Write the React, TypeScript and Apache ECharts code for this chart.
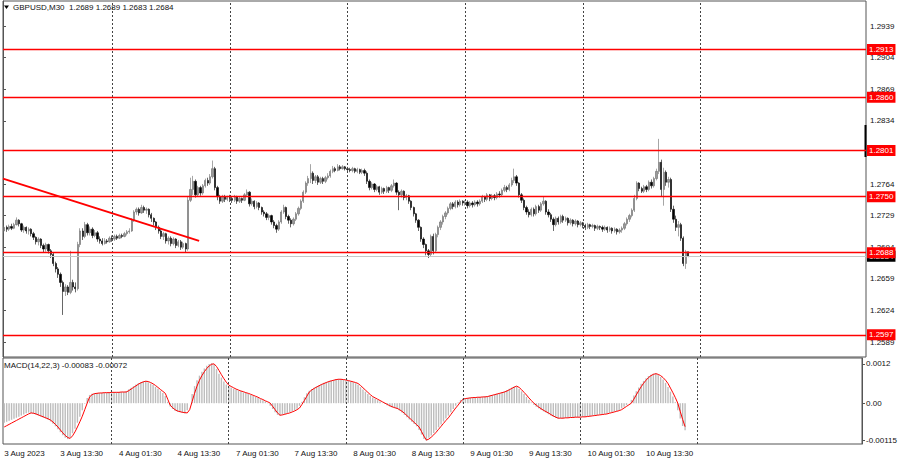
import React, { useEffect, useRef } from "react";
import * as echarts from "echarts";

const FONT = "'Liberation Sans', Arial, sans-serif";

const symbol = "GBPUSD,M30";
const macdName = "MACD(14,22,3)";

// trading days visible on the chart (M30 bars, first visible bar 3 Aug 02:00)
const dayNames = ["3 Aug", "4 Aug", "7 Aug", "8 Aug", "9 Aug", "10 Aug", "11 Aug", "14 Aug"];
const firstBarHalfHour = 4; // 02:00
const slotCount = 352;

const xTickLabels = [
  "3 Aug 2023", "3 Aug 13:30", "4 Aug 01:30", "4 Aug 13:30", "7 Aug 01:30", "7 Aug 13:30",
  "8 Aug 01:30", "8 Aug 13:30", "9 Aug 01:30", "9 Aug 13:30", "10 Aug 01:30", "10 Aug 13:30",
];
const daySeparators = ["4 Aug 00:00", "7 Aug 00:00", "8 Aug 00:00", "9 Aug 00:00", "10 Aug 00:00", "11 Aug 00:00"];

// 1.2799 is hidden behind the 1.2801 level tag in the reference, so it is not listed
const priceTicks = [1.2589, 1.2624, 1.2659, 1.2694, 1.2729, 1.2764, 1.2834, 1.2869, 1.2904, 1.2939];
const priceMin = 1.25724;
const priceMax = 1.29667;

const levels = [1.2913, 1.286, 1.2801, 1.275, 1.2688, 1.2597];

const trendSlots = [0, 80];
const trendPrices = [1.277, 1.2701];

const macdTickValues = [0.0012, 0, -0.00115];
const macdTickLabels = ["0.0012", "0.00", "-0.00115"];
const macdMin = -0.00125;
const macdMax = 0.00138;

// candles: [open, close, low, high]
const candles3Aug = [
  [1.2712, 1.2716, 1.271, 1.2718], [1.2716, 1.2714, 1.2711, 1.2718], [1.2714, 1.2717, 1.2712, 1.2719],
  [1.2717, 1.2715, 1.2713, 1.272], [1.2715, 1.2719, 1.2714, 1.2721], [1.2719, 1.2724, 1.2718, 1.2727],
  [1.2724, 1.272, 1.2717, 1.2725], [1.272, 1.2713, 1.2711, 1.2721], [1.2713, 1.2716, 1.271, 1.2718],
  [1.2716, 1.2712, 1.2709, 1.2717], [1.2712, 1.2714, 1.2708, 1.2716], [1.2714, 1.2709, 1.2706, 1.2715],
  [1.2709, 1.2705, 1.2702, 1.2711], [1.2705, 1.27, 1.2697, 1.2706], [1.27, 1.2703, 1.2696, 1.2705],
  [1.2703, 1.2696, 1.2693, 1.2704], [1.2696, 1.2692, 1.2688, 1.2698], [1.2692, 1.2697, 1.2689, 1.2699],
  [1.2697, 1.269, 1.2687, 1.2698], [1.269, 1.2686, 1.2682, 1.2692], [1.2686, 1.2676, 1.2673, 1.2688],
  [1.2676, 1.267, 1.2666, 1.2678], [1.267, 1.2664, 1.266, 1.2672], [1.2664, 1.2655, 1.265, 1.2666],
  [1.2655, 1.2645, 1.2619, 1.2657], [1.2645, 1.265, 1.264, 1.2653], [1.265, 1.2644, 1.2641, 1.2652],
  [1.2644, 1.2655, 1.2642, 1.269], [1.2655, 1.265, 1.2646, 1.2658], [1.265, 1.2648, 1.2644, 1.2655],
  [1.2648, 1.2697, 1.2646, 1.27], [1.2697, 1.2712, 1.2694, 1.2715], [1.2712, 1.2706, 1.2702, 1.2715],
  [1.2706, 1.2719, 1.2704, 1.2722], [1.2719, 1.271, 1.2707, 1.2721], [1.271, 1.2714, 1.2707, 1.2717],
  [1.2714, 1.2707, 1.2704, 1.2716], [1.2707, 1.271, 1.2705, 1.2713], [1.271, 1.2703, 1.27, 1.2712],
  [1.2703, 1.2701, 1.2698, 1.2706], [1.2701, 1.2698, 1.2696, 1.2704], [1.2698, 1.2701, 1.2697, 1.2704],
  [1.2701, 1.27, 1.2698, 1.2703], [1.27, 1.2704, 1.2699, 1.2706],
];
const candles4Aug = [
  [1.2704, 1.2703, 1.27, 1.2707], [1.2703, 1.2706, 1.2701, 1.2708], [1.2706, 1.2704, 1.2702, 1.2708],
  [1.2704, 1.2707, 1.2703, 1.2709], [1.2707, 1.2706, 1.2704, 1.2709], [1.2706, 1.2709, 1.2705, 1.2711],
  [1.2709, 1.2711, 1.2707, 1.2713], [1.2711, 1.2712, 1.2709, 1.2715], [1.2712, 1.2724, 1.2711, 1.2726],
  [1.2724, 1.2733, 1.2722, 1.2735], [1.2733, 1.2736, 1.273, 1.2738], [1.2736, 1.2732, 1.2729, 1.2738],
  [1.2732, 1.2738, 1.2731, 1.2741], [1.2738, 1.2735, 1.2732, 1.274], [1.2735, 1.2736, 1.2731, 1.2738],
  [1.2736, 1.273, 1.2727, 1.2737], [1.273, 1.2726, 1.2722, 1.2732], [1.2726, 1.2722, 1.2718, 1.2727],
  [1.2722, 1.2716, 1.2713, 1.2723], [1.2716, 1.2712, 1.2709, 1.2718], [1.2712, 1.2706, 1.2703, 1.2714],
  [1.2706, 1.2709, 1.2702, 1.2711], [1.2709, 1.2701, 1.2698, 1.271], [1.2701, 1.2704, 1.2697, 1.2706],
  [1.2704, 1.2698, 1.2695, 1.2706], [1.2698, 1.2703, 1.2696, 1.2705], [1.2703, 1.2696, 1.2693, 1.2704],
  [1.2696, 1.27, 1.2694, 1.2702], [1.27, 1.2694, 1.2691, 1.2702], [1.2694, 1.2698, 1.2692, 1.27],
  [1.2698, 1.2692, 1.2688, 1.2699], [1.2692, 1.2746, 1.269, 1.275], [1.2746, 1.2758, 1.2744, 1.2771],
  [1.2758, 1.2767, 1.2752, 1.2773], [1.2767, 1.2752, 1.2749, 1.2769], [1.2752, 1.276, 1.275, 1.2762],
  [1.276, 1.2754, 1.2751, 1.2762], [1.2754, 1.2762, 1.2752, 1.2764], [1.2762, 1.2768, 1.276, 1.277],
  [1.2768, 1.2765, 1.2762, 1.2771], [1.2765, 1.2772, 1.2763, 1.2775], [1.2772, 1.2781, 1.277, 1.279],
  [1.2781, 1.276, 1.2757, 1.2783], [1.276, 1.275, 1.2746, 1.2762], [1.275, 1.2745, 1.2742, 1.2752],
  [1.2745, 1.275, 1.2743, 1.2752], [1.275, 1.2747, 1.2744, 1.2752], [1.2747, 1.2749, 1.2745, 1.2751],
];
const candles7Aug = [
  [1.2749, 1.2748, 1.2744, 1.2752], [1.2748, 1.2746, 1.2743, 1.275], [1.2746, 1.275, 1.2744, 1.2752],
  [1.275, 1.2745, 1.2742, 1.2751], [1.2745, 1.2748, 1.2743, 1.275], [1.2748, 1.2746, 1.2743, 1.2749],
  [1.2746, 1.2752, 1.2745, 1.2754], [1.2752, 1.2755, 1.275, 1.2758], [1.2755, 1.2742, 1.2739, 1.2756],
  [1.2742, 1.2745, 1.274, 1.2748], [1.2745, 1.2739, 1.2736, 1.2746], [1.2739, 1.2743, 1.2737, 1.2745],
  [1.2743, 1.2738, 1.2735, 1.2744], [1.2738, 1.2733, 1.273, 1.2739], [1.2733, 1.2731, 1.2728, 1.2735],
  [1.2731, 1.2727, 1.2724, 1.2733], [1.2727, 1.2729, 1.2724, 1.2731], [1.2729, 1.2722, 1.2719, 1.273],
  [1.2722, 1.2718, 1.2715, 1.2724], [1.2718, 1.2714, 1.271, 1.272], [1.2714, 1.2722, 1.2712, 1.2724],
  [1.2722, 1.2733, 1.272, 1.2735], [1.2733, 1.2738, 1.2731, 1.2741], [1.2738, 1.2728, 1.2725, 1.2739],
  [1.2728, 1.2724, 1.272, 1.273], [1.2724, 1.272, 1.2716, 1.2726], [1.272, 1.2725, 1.2718, 1.2727],
  [1.2725, 1.2731, 1.2723, 1.2733], [1.2731, 1.2737, 1.2729, 1.2739], [1.2737, 1.2745, 1.2735, 1.2747],
  [1.2745, 1.2755, 1.2743, 1.2757], [1.2755, 1.2765, 1.2753, 1.2767], [1.2765, 1.277, 1.2762, 1.2773],
  [1.277, 1.2776, 1.2765, 1.2786], [1.2776, 1.2768, 1.2764, 1.2778], [1.2768, 1.2772, 1.2765, 1.2774],
  [1.2772, 1.2766, 1.2763, 1.2774], [1.2766, 1.277, 1.2764, 1.2772], [1.277, 1.2767, 1.2764, 1.2772],
  [1.2767, 1.2771, 1.2765, 1.2773], [1.2771, 1.2773, 1.2769, 1.2776], [1.2773, 1.2778, 1.2771, 1.278],
  [1.2778, 1.2781, 1.2776, 1.2784], [1.2781, 1.2779, 1.2777, 1.2783], [1.2779, 1.2783, 1.2778, 1.2786],
  [1.2783, 1.2781, 1.2779, 1.2785], [1.2781, 1.2783, 1.278, 1.2785], [1.2783, 1.2781, 1.2779, 1.2784],
];
const candles8Aug = [
  [1.2781, 1.278, 1.2778, 1.2783], [1.278, 1.2779, 1.2777, 1.2782], [1.2779, 1.2781, 1.2777, 1.2783],
  [1.2781, 1.2778, 1.2776, 1.2782], [1.2778, 1.278, 1.2776, 1.2782], [1.278, 1.2777, 1.2775, 1.2781],
  [1.2777, 1.2779, 1.2775, 1.2781], [1.2779, 1.2776, 1.2773, 1.2781], [1.2776, 1.2767, 1.2764, 1.2778],
  [1.2767, 1.276, 1.2757, 1.2769], [1.276, 1.2764, 1.2758, 1.2766], [1.2764, 1.2758, 1.2755, 1.2765],
  [1.2758, 1.2761, 1.2756, 1.2763], [1.2761, 1.2755, 1.2752, 1.2762], [1.2755, 1.2759, 1.2753, 1.2761],
  [1.2759, 1.2756, 1.2753, 1.276], [1.2756, 1.276, 1.2754, 1.2762], [1.276, 1.2757, 1.2754, 1.2761],
  [1.2757, 1.2762, 1.2755, 1.2764], [1.2762, 1.2765, 1.276, 1.2769], [1.2765, 1.2755, 1.2752, 1.2766],
  [1.2755, 1.2752, 1.2735, 1.2757], [1.2752, 1.2756, 1.2749, 1.2758], [1.2756, 1.2749, 1.2746, 1.2757],
  [1.2749, 1.2751, 1.2746, 1.2753], [1.2751, 1.2745, 1.2742, 1.2752], [1.2745, 1.2738, 1.2735, 1.2746],
  [1.2738, 1.2731, 1.2728, 1.2739], [1.2731, 1.2724, 1.2721, 1.2732], [1.2724, 1.2716, 1.2712, 1.2725],
  [1.2716, 1.2703, 1.27, 1.2717], [1.2703, 1.2697, 1.2693, 1.2705], [1.2697, 1.269, 1.2685, 1.2698],
  [1.269, 1.2686, 1.2682, 1.2692], [1.2686, 1.2706, 1.2684, 1.2708], [1.2706, 1.269, 1.2686, 1.2709],
  [1.269, 1.2708, 1.2688, 1.271], [1.2708, 1.2716, 1.2705, 1.2718], [1.2716, 1.2722, 1.2713, 1.2724],
  [1.2722, 1.2728, 1.2719, 1.273], [1.2728, 1.2732, 1.2725, 1.2734], [1.2732, 1.2737, 1.273, 1.2739],
  [1.2737, 1.2742, 1.2735, 1.2744], [1.2742, 1.2739, 1.2736, 1.2744], [1.2739, 1.2744, 1.2737, 1.2746],
  [1.2744, 1.2741, 1.2738, 1.2746], [1.2741, 1.2745, 1.2739, 1.2747], [1.2745, 1.2743, 1.274, 1.2746],
];
const candles9Aug = [
  [1.2743, 1.2744, 1.274, 1.2746], [1.2744, 1.274, 1.2737, 1.2746], [1.274, 1.2743, 1.2738, 1.2745],
  [1.2743, 1.2741, 1.2738, 1.2745], [1.2741, 1.2744, 1.2739, 1.2746], [1.2744, 1.2742, 1.2739, 1.2746],
  [1.2742, 1.2745, 1.274, 1.2747], [1.2745, 1.275, 1.2743, 1.2752], [1.275, 1.2747, 1.2744, 1.2751],
  [1.2747, 1.2752, 1.2745, 1.2754], [1.2752, 1.2748, 1.2745, 1.2753], [1.2748, 1.2751, 1.2746, 1.2753],
  [1.2751, 1.2749, 1.2746, 1.2753], [1.2749, 1.2753, 1.2747, 1.2755], [1.2753, 1.2752, 1.2749, 1.2756],
  [1.2752, 1.2757, 1.275, 1.2759], [1.2757, 1.276, 1.2755, 1.2763], [1.276, 1.2758, 1.2755, 1.2762],
  [1.2758, 1.2763, 1.2756, 1.2765], [1.2763, 1.2768, 1.2761, 1.2771], [1.2768, 1.2772, 1.2765, 1.2781],
  [1.2772, 1.2765, 1.2762, 1.2774], [1.2765, 1.2752, 1.2749, 1.2766], [1.2752, 1.2746, 1.2743, 1.2754],
  [1.2746, 1.2738, 1.2735, 1.2748], [1.2738, 1.2733, 1.273, 1.274], [1.2733, 1.273, 1.2727, 1.2736],
  [1.273, 1.2736, 1.2728, 1.2738], [1.2736, 1.2731, 1.2728, 1.2738], [1.2731, 1.2739, 1.2729, 1.2741],
  [1.2739, 1.2735, 1.2732, 1.2741], [1.2735, 1.2742, 1.2733, 1.2744], [1.2742, 1.2745, 1.274, 1.275],
  [1.2745, 1.2733, 1.273, 1.2746], [1.2733, 1.273, 1.2727, 1.2736], [1.273, 1.2725, 1.2722, 1.2732],
  [1.2725, 1.2719, 1.2712, 1.2727], [1.2719, 1.2726, 1.2717, 1.2728], [1.2726, 1.2722, 1.2719, 1.2728],
  [1.2722, 1.2728, 1.272, 1.273], [1.2728, 1.2724, 1.2721, 1.273], [1.2724, 1.2726, 1.2722, 1.2728],
  [1.2726, 1.2721, 1.2718, 1.2727], [1.2721, 1.2724, 1.2719, 1.2726], [1.2724, 1.272, 1.2717, 1.2725],
  [1.272, 1.2723, 1.2718, 1.2725], [1.2723, 1.2719, 1.2716, 1.2724], [1.2719, 1.2721, 1.2717, 1.2723],
];
const candles10Aug = [
  [1.2721, 1.2718, 1.2715, 1.2722], [1.2718, 1.2716, 1.2713, 1.272], [1.2716, 1.2719, 1.2714, 1.2721],
  [1.2719, 1.2717, 1.2714, 1.272], [1.2717, 1.2718, 1.2715, 1.272], [1.2718, 1.2715, 1.2712, 1.2719],
  [1.2715, 1.2717, 1.2713, 1.2719], [1.2717, 1.2716, 1.2713, 1.2718], [1.2716, 1.2714, 1.2711, 1.2718],
  [1.2714, 1.2716, 1.2712, 1.2718], [1.2716, 1.2713, 1.271, 1.2717], [1.2713, 1.2715, 1.2711, 1.2717],
  [1.2715, 1.2712, 1.2709, 1.2716], [1.2712, 1.2714, 1.271, 1.2716], [1.2714, 1.2711, 1.2708, 1.2715],
  [1.2711, 1.2713, 1.2709, 1.2715], [1.2713, 1.2715, 1.271, 1.2717], [1.2715, 1.272, 1.2713, 1.2722],
  [1.272, 1.2725, 1.2718, 1.2727], [1.2725, 1.2729, 1.2722, 1.2731], [1.2729, 1.2735, 1.2727, 1.2737],
  [1.2735, 1.2748, 1.2733, 1.2752], [1.2748, 1.2765, 1.2746, 1.2767], [1.2765, 1.2759, 1.2756, 1.2766],
  [1.2759, 1.2756, 1.2754, 1.2761], [1.2756, 1.2761, 1.2754, 1.2763], [1.2761, 1.2758, 1.2755, 1.2763],
  [1.2758, 1.2766, 1.2756, 1.2768], [1.2766, 1.2762, 1.2759, 1.2769], [1.2762, 1.277, 1.276, 1.2772],
  [1.277, 1.2778, 1.2768, 1.2781], [1.2778, 1.2788, 1.2775, 1.2814], [1.2788, 1.2758, 1.275, 1.2791],
  [1.2758, 1.2777, 1.274, 1.2782], [1.2777, 1.2766, 1.2762, 1.2779], [1.2766, 1.2769, 1.276, 1.2772],
  [1.2769, 1.2736, 1.2733, 1.2771], [1.2736, 1.2725, 1.2721, 1.274], [1.2725, 1.2716, 1.2712, 1.2729],
  [1.2716, 1.2719, 1.2706, 1.2723], [1.2719, 1.2704, 1.2701, 1.2721], [1.2704, 1.2676, 1.2673, 1.2706],
  [1.2676, 1.2689, 1.267, 1.2691], [1.2689, 1.2684, 1.2683, 1.2689],
];

const macdMain = [
  // 3 Aug
  -0.0006, -0.00057, -0.00054, -0.00051, -0.00048, -0.00045, -0.00042, -0.00038, -0.00035, -0.00031, -0.00029, -0.0003,
  -0.00032, -0.00035, -0.00038, -0.00041, -0.00044, -0.00047, -0.00051, -0.00056, -0.00063, -0.00071, -0.0008, -0.00089,
  -0.00098, -0.00106, -0.0011, -0.00106, -0.00092, -0.00078, -0.0006, -0.00042, -0.00022, -0.00002, 0.00016, 0.00025,
  0.00029, 0.0003, 0.00031, 0.00031, 0.00032, 0.00032, 0.00032, 0.00033,
  // 4 Aug
  0.00033, 0.00033, 0.00033, 0.00034, 0.00034, 0.00034, 0.00036, 0.00042, 0.00047, 0.00052, 0.00057, 0.00061,
  0.00064, 0.00067, 0.00068, 0.00064, 0.0006, 0.00056, 0.0005, 0.00044, 0.00038, 0.00031, 0.00022, 0.00004,
  -0.0001, -0.00018, -0.00023, -0.00026, -0.00028, -0.0003, -0.00032, -0.00022, 0.0, 0.00028, 0.00052, 0.0007,
  0.00084, 0.00096, 0.00106, 0.00114, 0.0012, 0.00122, 0.00118, 0.00104, 0.0009, 0.00078, 0.00066, 0.00057,
  // 7 Aug
  0.00052, 0.00048, 0.00044, 0.00041, 0.00038, 0.00036, 0.00033, 0.00031, 0.00028, 0.00025, 0.00022, 0.00019,
  0.00016, 0.00012, 0.00009, 0.00005, 0.00001, -0.00008, -0.00018, -0.00028, -0.00036, -0.00038, -0.00035, -0.00033,
  -0.00031, -0.00028, -0.00025, -0.00022, -0.00017, -0.00008, 0.00004, 0.00018, 0.0003, 0.00038, 0.00043, 0.00047,
  0.00051, 0.00055, 0.00059, 0.00062, 0.00065, 0.00067, 0.00069, 0.00071, 0.00073, 0.00074, 0.00073, 0.00072,
  // 8 Aug
  0.0007, 0.00068, 0.00066, 0.00064, 0.00061, 0.00056, 0.00049, 0.00042, 0.00035, 0.00028, 0.00022, 0.00017,
  0.00013, 0.00009, 0.00005, 0.00001, -0.00003, -0.00007, -0.0001, -0.00013, -0.00015, -0.00018, -0.00023, -0.00029,
  -0.00036, -0.00043, -0.0005, -0.00057, -0.00064, -0.00071, -0.00082, -0.00096, -0.0011, -0.00115, -0.00106, -0.00099,
  -0.00091, -0.00083, -0.00074, -0.00065, -0.00056, -0.00047, -0.00038, -0.00028, -0.00018, -0.00008, 0.00002, 0.0001,
  // 9 Aug
  0.00014, 0.00015, 0.00016, 0.00017, 0.00017, 0.00018, 0.00018, 0.00019, 0.00019, 0.0002, 0.00021, 0.00023,
  0.00025, 0.00027, 0.00029, 0.00031, 0.00033, 0.00036, 0.0004, 0.00044, 0.00048, 0.00051, 0.0005, 0.00043,
  0.00036, 0.00028, 0.00019, 0.0001, 0.00002, -0.00005, -0.00011, -0.00016, -0.00021, -0.00025, -0.00029, -0.00034,
  -0.00038, -0.00042, -0.00045, -0.00047, -0.00046, -0.00046, -0.00045, -0.00045, -0.00044, -0.00044, -0.00043, -0.00043,
  // 10 Aug
  -0.00042, -0.00042, -0.00041, -0.0004, -0.00039, -0.00038, -0.00037, -0.00036, -0.00035, -0.00034, -0.00033, -0.00032,
  -0.0003, -0.00028, -0.00026, -0.00024, -0.00021, -0.00016, -0.00011, -0.00006, 0.0, 0.0001, 0.00023, 0.00036,
  0.00048, 0.00059, 0.00068, 0.00076, 0.00083, 0.00087, 0.0009, 0.00091, 0.00086, 0.0008, 0.00072, 0.00062,
  0.00049, 0.00035, 0.0002, 0.00003, -0.00022, -0.00047, -0.0007, -0.00083,
];

const macdSignal = [
  // 3 Aug
  -0.00073, -0.00069, -0.00065, -0.00061, -0.00057, -0.00053, -0.00049, -0.00045, -0.00041, -0.00037, -0.00033, -0.0003,
  -0.00031, -0.00033, -0.00036, -0.00039, -0.00042, -0.00045, -0.00048, -0.00052, -0.00058, -0.00065, -0.00073, -0.00082,
  -0.00091, -0.00099, -0.00105, -0.00108, -0.001, -0.00088, -0.00073, -0.00057, -0.0004, -0.0002, 0.0, 0.00019,
  0.00026, 0.00029, 0.0003, 0.00031, 0.00031, 0.00032, 0.00032, 0.00032,
  // 4 Aug
  0.00033, 0.00033, 0.00033, 0.00033, 0.00034, 0.00034, 0.00034, 0.00038, 0.00043, 0.00048, 0.00053, 0.00058,
  0.00062, 0.00065, 0.00067, 0.00066, 0.00063, 0.00059, 0.00054, 0.00048, 0.00042, 0.00036, 0.0003, 0.00012,
  -0.00006, -0.00014, -0.0002, -0.00024, -0.00026, -0.00028, -0.00029, -0.0003, -0.0002, 0.00005, 0.0003, 0.00052,
  0.0007, 0.00084, 0.00096, 0.00106, 0.00114, 0.00119, 0.0012, 0.00112, 0.001, 0.00087, 0.00075, 0.00064,
  // 7 Aug
  0.00055, 0.00051, 0.00047, 0.00043, 0.0004, 0.00037, 0.00035, 0.00032, 0.0003, 0.00027, 0.00024, 0.00021,
  0.00018, 0.00014, 0.00011, 0.00007, 0.00004, 0.0, -0.0001, -0.0002, -0.0003, -0.00037, -0.00036, -0.00034,
  -0.00032, -0.0003, -0.00027, -0.00024, -0.0002, -0.00015, -0.00004, 0.00008, 0.00021, 0.00034, 0.0004, 0.00045,
  0.00049, 0.00053, 0.00057, 0.0006, 0.00063, 0.00066, 0.00068, 0.0007, 0.00072, 0.00073, 0.00073, 0.00072,
  // 8 Aug
  0.00071, 0.00069, 0.00067, 0.00065, 0.00063, 0.0006, 0.00054, 0.00047, 0.0004, 0.00033, 0.00026, 0.0002,
  0.00016, 0.00012, 0.00008, 0.00004, 0.0, -0.00004, -0.00008, -0.00011, -0.00014, -0.00016, -0.0002, -0.00025,
  -0.00031, -0.00038, -0.00045, -0.00052, -0.00059, -0.00066, -0.00073, -0.00087, -0.00101, -0.00113, -0.0011, -0.00104,
  -0.00097, -0.00089, -0.0008, -0.00071, -0.00062, -0.00053, -0.00045, -0.00035, -0.00025, -0.00015, -0.00006, 0.00004,
  // 9 Aug
  0.00012, 0.00014, 0.00015, 0.00016, 0.00017, 0.00017, 0.00018, 0.00018, 0.00019, 0.00019, 0.0002, 0.00022,
  0.00024, 0.00026, 0.00028, 0.0003, 0.00032, 0.00034, 0.00037, 0.00041, 0.00045, 0.00049, 0.00052, 0.00048,
  0.00041, 0.00033, 0.00025, 0.00016, 0.00008, 0.0, -0.00006, -0.00012, -0.00017, -0.00022, -0.00026, -0.0003,
  -0.00035, -0.00039, -0.00043, -0.00046, -0.00046, -0.00046, -0.00045, -0.00045, -0.00044, -0.00044, -0.00043, -0.00043,
  // 10 Aug
  -0.00043, -0.00042, -0.00042, -0.00041, -0.0004, -0.00039, -0.00038, -0.00037, -0.00036, -0.00035, -0.00034, -0.00033,
  -0.00031, -0.00029, -0.00027, -0.00025, -0.00023, -0.0002, -0.00015, -0.0001, -0.00005, 0.0, 0.00012, 0.00025,
  0.00038, 0.0005, 0.00061, 0.0007, 0.00078, 0.00084, 0.00088, 0.0009, 0.00088, 0.00084, 0.00078, 0.0007,
  0.0006, 0.00046, 0.00032, 0.00017, 0.0, -0.00025, -0.0005, -0.00072,
];

function buildCategories(): string[] {
  const out: string[] = [];
  for (let d = 0; d < dayNames.length && out.length < slotCount; d++) {
    for (let h = d === 0 ? firstBarHalfHour : 0; h < 48 && out.length < slotCount; h++) {
      const hh = String(Math.floor(h / 2)).padStart(2, "0");
      const mm = h % 2 === 0 ? "00" : "30";
      out.push(`${dayNames[d]} ${hh}:${mm}`);
    }
  }
  return out;
}

export default function App() {
  const ref = useRef<HTMLDivElement>(null);

  useEffect(() => {
    if (!ref.current) return;
    const chart = echarts.init(ref.current, null, { renderer: "svg" });

    const categories = buildCategories();
    const candles = [...candles3Aug, ...candles4Aug, ...candles7Aug, ...candles8Aug, ...candles9Aug, ...candles10Aug];
    const last = candles[candles.length - 1];
    const currentPrice = last[1];
    const titleText = `${symbol}  ${last[0].toFixed(4)} ${last[3].toFixed(4)} ${last[2].toFixed(4)} ${last[1].toFixed(4)}`;
    const macdText = `${macdName} ${macdMain[macdMain.length - 1].toFixed(5)} ${macdSignal[macdSignal.length - 1].toFixed(5)}`;

    const tagLabel = (bg: string) => ({
      show: true,
      position: "end",
      distance: 1,
      formatter: (p: any) => Number(p.value).toFixed(4),
      color: "#fff",
      backgroundColor: bg,
      padding: [2, 2, 1, 2],
      fontSize: 8,
      fontFamily: FONT,
    });

    const separatorStyle = { color: "#444", width: 1, type: [2, 2] };
    const separatorItems = daySeparators.map((c) => ({
      xAxis: c,
      lineStyle: separatorStyle,
      label: { show: false },
    }));

    const option: any = {
      animation: false,
      backgroundColor: "#fff",
      textStyle: { fontFamily: FONT },
      grid: [
        { left: 3, right: 34, top: 1, height: 356, show: true, borderColor: "#555", borderWidth: 1 },
        { left: 3, right: 34, top: 358, height: 86, show: true, borderColor: "#555", borderWidth: 1 },
      ],
      xAxis: [
        { type: "category", gridIndex: 0, data: categories, show: false, boundaryGap: true },
        {
          type: "category",
          gridIndex: 1,
          data: categories,
          boundaryGap: true,
          axisLine: { show: false },
          axisTick: { show: false },
          splitLine: { show: false },
          axisLabel: {
            interval: (i: number, v: string) => i === 0 || xTickLabels.includes(v),
            formatter: (v: string, i: number) => (i === 0 ? xTickLabels[0] : v),
            align: "left",
            fontSize: 8,
            color: "#111",
            margin: 5,
            fontFamily: FONT,
          },
        },
        { type: "value", gridIndex: 0, min: 0, max: categories.length, show: false },
      ],
      yAxis: [
        {
          type: "value",
          gridIndex: 0,
          position: "right",
          min: priceMin,
          max: priceMax,
          axisLine: { show: true, lineStyle: { color: "#555" } },
          axisTick: { show: true, length: 3, customValues: priceTicks, lineStyle: { color: "#555" } },
          axisLabel: {
            customValues: priceTicks,
            formatter: (v: number) => v.toFixed(4),
            color: "#111",
            fontSize: 8,
            margin: 4,
            fontFamily: FONT,
          },
          splitLine: { show: false },
        },
        {
          type: "value",
          gridIndex: 1,
          position: "right",
          min: macdMin,
          max: macdMax,
          axisLine: { show: true, lineStyle: { color: "#555" } },
          axisTick: { show: true, length: 3, customValues: macdTickValues, lineStyle: { color: "#555" } },
          axisLabel: {
            customValues: macdTickValues,
            formatter: (v: number) => {
              const k = macdTickValues.findIndex((t) => Math.abs(t - v) < 1e-9);
              return k >= 0 ? macdTickLabels[k] : "";
            },
            color: "#111",
            fontSize: 8,
            margin: 4,
            fontFamily: FONT,
          },
          splitLine: { show: false },
        },
      ],
      graphic: [
        { type: "polygon", shape: { points: [[4, 5.5], [9, 5.5], [6.5, 9]] }, style: { fill: "#000" } },
        { type: "text", x: 13, y: 7.5, style: { text: titleText, fontSize: 8, fill: "#111", fontFamily: FONT, verticalAlign: "middle" } },
        { type: "text", x: 4, y: 365, style: { text: macdText, fontSize: 8, fill: "#111", fontFamily: FONT, verticalAlign: "middle" } },
        { type: "rect", shape: { x: 864.5, y: 125, width: 2, height: 32 }, style: { fill: "#000" } },
      ],
      series: [
        {
          type: "candlestick",
          name: symbol,
          xAxisIndex: 0,
          yAxisIndex: 0,
          data: candles,
          barWidth: 1.8,
          itemStyle: {
            color: "#9a9a9a",
            color0: "#000",
            borderColor: "#6a6a6a",
            borderColor0: "#000",
            borderWidth: 0.6,
          },
          markLine: {
            silent: true,
            symbol: ["none", "none"],
            precision: 4,
            data: [
              ...separatorItems,
              { yAxis: currentPrice, lineStyle: { color: "#c8c8c8", width: 1, type: "solid" }, label: tagLabel("#000") },
              ...levels.map((v) => ({
                yAxis: v,
                lineStyle: { color: "#ff0000", width: 1.3, type: "solid" },
                label: tagLabel("#ff0000"),
              })),
            ],
          },
        },
        {
          type: "line",
          name: "trend",
          xAxisIndex: 2,
          yAxisIndex: 0,
          data: trendSlots.map((s, k) => [s, trendPrices[k]]),
          symbol: "none",
          lineStyle: { color: "#ff0000", width: 2 },
          z: 3,
        },
        {
          type: "bar",
          name: "MACD",
          xAxisIndex: 1,
          yAxisIndex: 1,
          data: macdMain,
          barWidth: 1.4,
          itemStyle: { color: "#bdbdbd" },
          markLine: {
            silent: true,
            symbol: ["none", "none"],
            data: separatorItems,
          },
        },
        {
          type: "line",
          name: "Signal",
          xAxisIndex: 1,
          yAxisIndex: 1,
          data: macdSignal,
          symbol: "none",
          lineStyle: { color: "#ff0000", width: 1 },
        },
      ],
    };

    chart.setOption(option);
    return () => chart.dispose();
  }, []);

  return (
    <div
      ref={ref}
      style={{ position: "fixed", left: 0, top: 0, width: 900, height: 460, background: "#fff" }}
    />
  );
}
